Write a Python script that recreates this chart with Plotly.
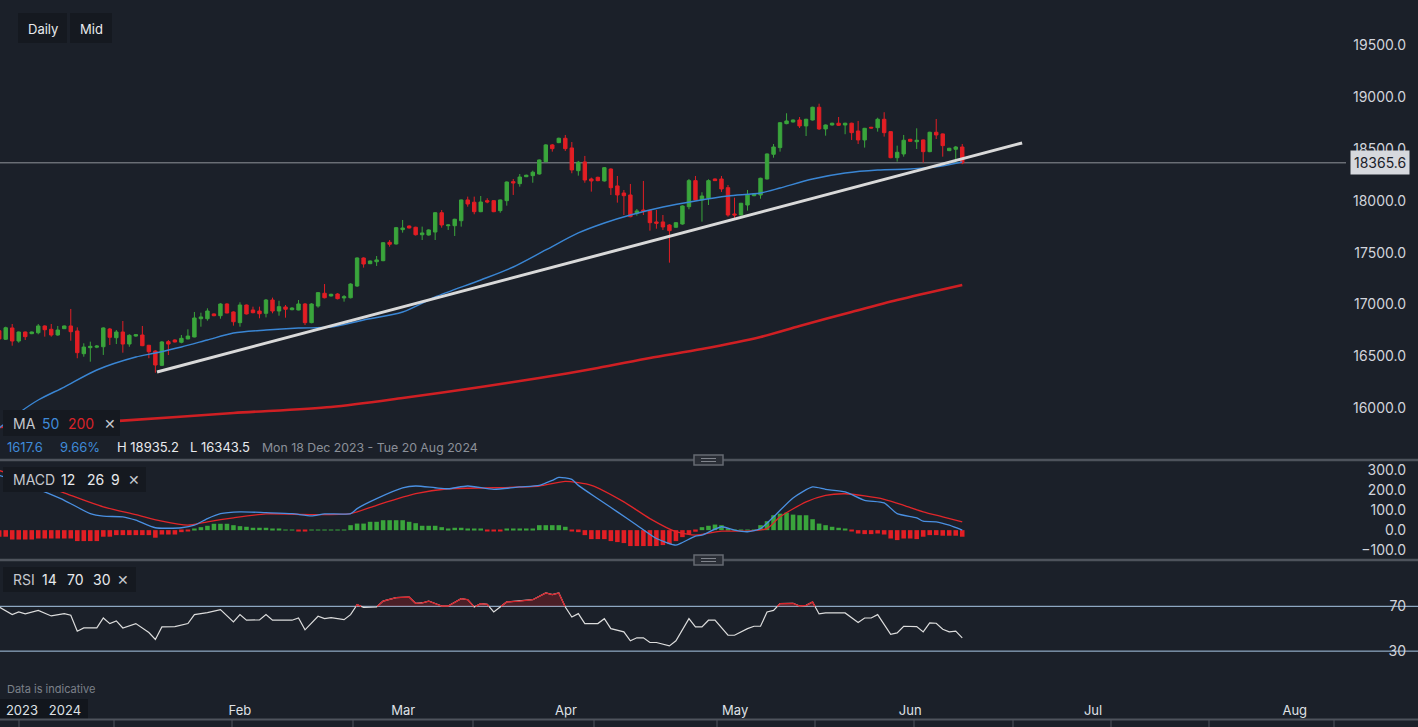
import plotly.graph_objects as go

# ---------------- data ----------------
opens = [16748.0, 16666, 16775, 16649, 16736, 16720, 16729, 16794, 16762, 16707,
         16768, 16794, 16746, 16527, 16585, 16590, 16594, 16765, 16681, 16736,
         16620, 16697, 16707, 16608, 16553, 16415, 16643, 16659, 16637, 16669,
         16688, 16864, 16864, 16910, 16893, 17006, 16929, 16826, 16996, 16948,
         16938, 16916, 17044, 16938, 16977, 16951, 16948, 17006, 16826, 16986,
         17109, 17083, 17102, 17064, 17066, 17179, 17449, 17394, 17413, 17423,
         17600, 17584, 17722, 17757, 17745, 17673, 17670, 17699, 17885, 17760,
         17760, 17808, 18008, 17986, 17895, 18001, 18001, 17905, 18001, 18184,
         18165, 18232, 18242, 18258, 18377, 18538, 18560, 18602, 18509, 18290,
         18374, 18210, 18226, 18191, 18306, 18143, 18075, 18056, 17880, 17911,
         17905, 17796, 17796, 17767, 17745, 17776, 17943, 18194, 18008, 18024,
         18210, 18210, 18126, 17873, 17863, 17959, 18049, 18056, 18210, 18448,
         18512, 18743, 18759, 18778, 18721, 18778, 18901, 18692, 18730, 18747,
         18730, 18747, 18672, 18586, 18708, 18704, 18785, 18666, 18415, 18451,
         18592, 18569, 18586, 18473, 18660, 18644, 18483, 18496, 18518]
highs = [16765, 16787, 16813, 16740, 16740, 16740, 16813, 16800, 16813, 16794,
         16798, 16958, 16781, 16627, 16643, 16610, 16781, 16775, 16755, 16842,
         16714, 16715, 16794, 16612, 16560, 16649, 16659, 16665, 16707, 16762,
         16929, 16922, 16964, 16915, 17013, 17013, 16935, 17022, 17000, 16980,
         16980, 17054, 17067, 17037, 16996, 16975, 17044, 17015, 17013, 17120,
         17198, 17105, 17110, 17092, 17205, 17455, 17455, 17425, 17468, 17602,
         17622, 17748, 17815, 17762, 17750, 17751, 17725, 17890, 17911, 17772,
         17827, 18012, 18040, 18040, 18046, 18024, 18006, 18012, 18186, 18210,
         18258, 18252, 18290, 18398, 18545, 18547, 18608, 18634, 18566, 18384,
         18432, 18223, 18232, 18325, 18312, 18239, 18104, 18162, 17921, 18191,
         17915, 17911, 17863, 17775, 17795, 17955, 18210, 18239, 18082, 18207,
         18215, 18239, 18152, 18030, 17980, 18104, 18072, 18222, 18456, 18547,
         18758, 18843, 18783, 18807, 18790, 18906, 18935.2, 18735, 18752, 18807,
         18752, 18752, 18769, 18702, 18712, 18800, 18853, 18670, 18531, 18634,
         18597, 18698, 18590, 18665, 18788, 18648, 18510, 18528, 18547]
lows = [16650, 16659, 16604, 16633, 16659, 16715, 16714, 16691, 16691, 16700,
        16765, 16652, 16483, 16498, 16450, 16580, 16515, 16611, 16620, 16537,
        16594, 16690, 16600, 16483, 16343.5, 16408, 16514, 16635, 16627, 16666,
        16685, 16787, 16845, 16888, 16864, 16916, 16797, 16787, 16905, 16916,
        16868, 16877, 16916, 16893, 16874, 16945, 16945, 16803, 16820, 16970,
        17060, 17078, 17050, 17028, 17060, 17170, 17356, 17390, 17372, 17418,
        17558, 17578, 17693, 17733, 17665, 17622, 17665, 17622, 17741, 17719,
        17661, 17751, 17943, 17870, 17890, 17976, 17890, 17885, 17953, 18056,
        18136, 18228, 18174, 18252, 18370, 18473, 18555, 18480, 18265, 18242,
        18174, 18088, 18188, 18185, 18056, 17982, 17863, 17841, 17857, 17863,
        17712, 17731, 17719, 17404, 17740, 17770, 17918, 18005, 17799, 17959,
        18190, 18085, 17847, 17831, 17858, 17905, 18044, 18020, 18205, 18415,
        18473, 18737, 18754, 18701, 18624, 18773, 18682, 18627, 18725, 18721,
        18641, 18586, 18547, 18512, 18696, 18666, 18618, 18410, 18377, 18425,
        18568, 18499, 18367, 18468, 18595, 18425, 18478, 18361, 18352]
closes = [16669, 16777, 16649, 16736, 16691, 16736, 16794, 16758, 16707, 16755,
          16794, 16739, 16537, 16591, 16598, 16600, 16775, 16685, 16736, 16620,
          16704, 16710, 16604, 16546, 16418, 16640, 16620, 16640, 16675, 16697,
          16871, 16881, 16938, 16893, 17006, 16919, 16835, 16996, 16910, 16922,
          16912, 17044, 16938, 16980, 16955, 16967, 17006, 16826, 17006, 17115,
          17066, 17099, 17057, 17076, 17198, 17449, 17391, 17420, 17430, 17596,
          17581, 17741, 17738, 17738, 17673, 17690, 17719, 17885, 17767, 17767,
          17822, 18008, 17969, 17895, 17988, 17988, 17895, 18008, 18181, 18172,
          18229, 18246, 18275, 18393, 18538, 18502, 18602, 18502, 18297, 18371,
          18200, 18191, 18194, 18319, 18126, 18056, 18049, 17847, 17902, 17902,
          17789, 17783, 17748, 17712, 17789, 17950, 18194, 18008, 18046, 18194,
          18194, 18114, 17863, 17863, 17976, 18056, 18066, 18217, 18451, 18518,
          18752, 18769, 18778, 18721, 18785, 18901, 18692, 18730, 18747, 18727,
          18747, 18656, 18586, 18698, 18701, 18785, 18656, 18415, 18467, 18583,
          18573, 18583, 18473, 18660, 18634, 18531, 18506, 18518, 18365.6]

ma50_idx = [0, 3, 6, 10, 15, 21, 24, 28, 32, 36, 41, 46, 51, 56, 62, 67, 74, 79, 84,
            89, 93, 97, 102, 107, 112, 117, 120, 125, 130, 135, 140, 144, 148]
ma50_val = [15811, 15956, 16081, 16206, 16370, 16495, 16534, 16592, 16659, 16726,
            16755, 16774, 16784, 16852, 16929, 17073, 17237, 17362, 17526, 17690,
            17786, 17863, 17940, 17998, 18046, 18075, 18123, 18210, 18268, 18297,
            18306, 18326, 18374]
ma200_idx = [0, 19, 36, 51, 62, 74, 83, 92, 100, 108, 117, 123, 131, 138, 148]
ma200_val = [15821, 15882, 15956, 16014, 16100, 16206, 16293, 16389, 16486, 16572,
             16688, 16794, 16929, 17044, 17189]

trend_idx = [24.25, 157.2]
trend_val = [16351, 18557]

macd_idx = [0, 4, 7, 10, 14, 16, 19, 21, 24, 28, 30, 32, 34, 37, 41, 45, 48, 50, 54,
            55, 58, 62, 64, 67, 69, 72, 76, 80, 83, 85, 86, 88, 89, 92, 95, 98, 101,
            104, 105, 107, 108, 111, 113, 115, 117, 119, 122, 125, 127, 130, 133,
            136, 138, 141, 142, 144, 146, 148]
macd_val = [275, 233, 192, 150, 83, 70, 67, 50, 12, 12, 25, 58, 83, 92, 88, 83, 72,
            82, 83, 108, 158, 212, 222, 213, 208, 222, 205, 217, 225, 250, 265, 255,
            225, 158, 92, 25, -42, -75, -62, -30, -25, 17, 0, -8, 8, 67, 162, 217,
            205, 192, 150, 137, 83, 62, 45, 42, 25, 0]
signal_idx = [0, 7, 11, 16, 21, 25, 29, 32, 36, 41, 48, 54, 58, 64, 69, 76, 83, 87,
              91, 96, 100, 104, 107, 111, 115, 118, 120, 124, 127, 130, 133, 136,
              139, 142, 145, 148]
signal_val = [300, 225, 175, 117, 78, 45, 25, 42, 62, 82, 78, 83, 125, 183, 208, 213,
              222, 245, 225, 142, 58, -8, -25, -5, -5, 8, 67, 142, 175, 183, 172,
              155, 125, 92, 67, 42]
hist_val = [-33, -33, -47, -47, -47, -47, -42, -42, -42, -42, -42, -42, -55, -55, -55,
            -55, -33, -33, -25, -25, -25, -25, -25, -25, -38, -22, -22, -22, -10, -5,
            7, 15, 22, 32, 32, 32, 25, 20, 17, 12, 12, 12, 8, 8, 2, 2, -7, -7,
            3, 3, 3, 3, 3, 3, 25, 33, 33, 42, 42, 50, 50, 50, 50, 42, 35, 22, 22, 22,
            15, 5, 12, 12, 5, 5, 5, -5, -5, -5, 8, 8, 8, 8, 8, 25, 25, 25, 25, 17,
            -5, -10, -25, -45, -45, -45, -55, -60, -65, -80, -80, -80, -80, -80, -75,
            -70, -55, -35, -20, -8, 15, 22, 28, 25, 8, 3, 3, 3, 3, 25, 45, 75, 83,
            88, 78, 75, 75, 55, 33, 25, 17, 12, 5, -3, -17, -20, -20, -17, -22, -42,
            -50, -42, -42, -45, -33, -25, -25, -28, -28, -28, -33]

rsi_idx = [0, 2, 3, 4, 6, 8, 10, 11, 12, 13, 15, 16, 17, 18, 19, 21, 23, 24, 25, 27,
           29, 30, 32, 34, 36, 37, 38, 40, 41, 42, 44, 45, 46, 47, 49, 50, 51, 53, 54,
           55, 56, 58, 59, 61, 63, 64, 65, 66, 68, 69, 71, 72, 73, 74, 75, 76, 78, 80,
           82, 84, 85, 86, 87, 88, 89, 90, 92, 93, 94, 96, 97, 98, 99, 100, 101, 103,
           104, 106, 107, 108, 109, 110, 112, 113, 115, 116, 117, 118, 119, 120, 122,
           123, 124, 125, 126, 127, 129, 130, 132, 133, 134, 135, 137, 138, 139, 141,
           142, 143, 144, 145, 146, 147, 148]
rsi_val = [69.4, 62.6, 65.0, 63.2, 66.4, 61.4, 63.5, 62.0, 47.8, 50.7, 50.7, 59.6, 54.6,
           57.0, 50.7, 54.6, 46.6, 40.4, 51.6, 51.9, 54.6, 62.6, 64.4, 67.0, 56.1, 62.6,
           57.6, 57.9, 62.6, 57.6, 57.6, 57.6, 59.6, 49.0, 61.1, 59.0, 59.9, 58.1, 62.6,
           71.5, 69.1, 69.4, 74.7, 77.7, 78.3, 72.7, 73.0, 74.7, 70.3, 70.3, 76.8, 75.9,
           69.4, 72.4, 71.8, 65.0, 73.9, 74.7, 75.9, 81.9, 80.4, 81.9, 69.4, 60.5, 63.5,
           54.6, 54.6, 59.0, 50.1, 47.2, 39.2, 41.9, 41.9, 37.7, 37.7, 34.7, 39.2, 59.0,
           51.6, 51.6, 57.6, 57.6, 44.2, 44.2, 50.1, 52.2, 52.2, 65.0, 66.4, 72.4, 72.7,
           70.3, 70.9, 73.9, 63.2, 64.1, 63.8, 64.1, 55.5, 59.6, 59.6, 62.6, 45.1, 46.3,
           52.2, 51.9, 47.2, 55.2, 54.9, 49.6, 47.2, 47.8, 41.9]
rsi_upper, rsi_lower = 70, 30

price_ticks = [16000, 16500, 17000, 17500, 18000, 18500, 19000, 19500]
macd_ticks = [-100, 0, 100, 200, 300]
rsi_ticks = [30, 70]
x_tick_pos = [3.5, 10.1, 37.0, 62.1, 87.1, 113.1, 140.0, 168.1, 199.1]
x_tick_text = ["2023", "2024", "Feb", "Mar", "Apr", "May", "Jun", "Jul", "Aug"]
range_text = "Mon 18 Dec 2023 - Tue 20 Aug 2024"

# ---------------- styling ----------------
W, H = 1418, 727
BG = "#1b2029"
GREEN = "#3aa53c"
RED = "#e21e24"
BLUE = "#3f8ad8"
TXT = "#d1d4dc"
FONT = "Inter"
X_RANGE = [0.123, 218.04]

def px(x):
    return x / W

def py(y):
    return 1 - y / H

idx = list(range(len(opens)))
fig = go.Figure()

fig.add_trace(go.Candlestick(
    x=idx, open=opens, high=highs, low=lows, close=closes,
    increasing=dict(line=dict(color=GREEN, width=1), fillcolor=GREEN),
    decreasing=dict(line=dict(color=RED, width=1), fillcolor=RED),
    whiskerwidth=0, xaxis="x", yaxis="y", showlegend=False))
fig.add_trace(go.Scatter(x=ma200_idx, y=ma200_val, mode="lines",
                         line=dict(color="#cf1f23", width=2.6, shape="spline", smoothing=0.8),
                         xaxis="x", yaxis="y", showlegend=False))
fig.add_trace(go.Scatter(x=ma50_idx, y=ma50_val, mode="lines",
                         line=dict(color="#3a86d4", width=1.4, shape="spline", smoothing=0.8),
                         xaxis="x", yaxis="y", showlegend=False))
fig.add_trace(go.Scatter(x=trend_idx, y=trend_val, mode="lines",
                         line=dict(color="#d9d9d9", width=3),
                         xaxis="x", yaxis="y", showlegend=False))

# MACD
fig.add_trace(go.Bar(x=idx, y=hist_val, width=0.7,
                     marker=dict(color=[GREEN if v >= 0 else RED for v in hist_val], line=dict(width=0)),
                     xaxis="x2", yaxis="y2", showlegend=False))
fig.add_trace(go.Scatter(x=signal_idx, y=signal_val, mode="lines",
                         line=dict(color="#e0262a", width=1.3, shape="spline", smoothing=0.6),
                         xaxis="x2", yaxis="y2", showlegend=False))
fig.add_trace(go.Scatter(x=macd_idx, y=macd_val, mode="lines",
                         line=dict(color="#4a90e2", width=1.3, shape="spline", smoothing=0.6),
                         xaxis="x2", yaxis="y2", showlegend=False))

# RSI: white line, red overbought part with shaded area
ox, oy, rl = [], [], []
for k in range(len(rsi_idx)):
    if k > 0:
        a, b = rsi_val[k - 1], rsi_val[k]
        if (a - rsi_upper) * (b - rsi_upper) < 0:
            t = (rsi_upper - a) / (b - a)
            xc = rsi_idx[k - 1] + t * (rsi_idx[k] - rsi_idx[k - 1])
            ox.append(xc); oy.append(rsi_upper); rl.append(rsi_upper)
    ox.append(rsi_idx[k])
    oy.append(max(rsi_val[k], rsi_upper))
    rl.append(rsi_val[k] if rsi_val[k] >= rsi_upper else None)

fig.add_trace(go.Scatter(x=rsi_idx, y=rsi_val, mode="lines",
                         line=dict(color="#dcdcdc", width=1.2),
                         xaxis="x3", yaxis="y3", showlegend=False))
fig.add_trace(go.Scatter(x=ox, y=[rsi_upper] * len(ox), mode="lines",
                         line=dict(width=0, color="rgba(0,0,0,0)"),
                         xaxis="x3", yaxis="y3", showlegend=False))
fig.add_trace(go.Scatter(x=ox, y=oy, mode="lines", fill="tonexty",
                         fillcolor="rgba(200,30,35,0.28)",
                         line=dict(width=0, color="rgba(0,0,0,0)"),
                         xaxis="x3", yaxis="y3", showlegend=False))
fig.add_trace(go.Scatter(x=ox, y=rl, mode="lines", connectgaps=False,
                         line=dict(color="#d8232a", width=1.3),
                         xaxis="x3", yaxis="y3", showlegend=False))

main_dom = [py(460), 1]
macd_dom = [py(560), py(461.5)]
rsi_dom = [py(700), py(561.5)]

common_x = dict(range=X_RANGE, showgrid=False, zeroline=False, showline=False,
                ticks="", fixedrange=True)
common_y = dict(showgrid=False, zeroline=False, showline=False, ticks="", side="right",
                ticklabelposition="inside", ticklabelstandoff=9, ticklabeloverflow="allow",
                tickfont=dict(size=14, color=TXT, family=FONT), fixedrange=True)

fig.update_layout(
    width=W, height=H, autosize=False,
    margin=dict(l=0, r=0, t=0, b=0),
    paper_bgcolor=BG, plot_bgcolor=BG,
    font=dict(family=FONT, color=TXT),
    hovermode=False, showlegend=False, bargap=0.3, boxgap=0.25,
    xaxis=dict(**common_x, domain=[0, 1], anchor="y", showticklabels=False,
               rangeslider=dict(visible=False)),
    xaxis2=dict(**common_x, domain=[0, 1], anchor="y2", showticklabels=False),
    xaxis3=dict(**common_x, domain=[0, 1], anchor="y3", tickmode="array",
                tickvals=x_tick_pos, ticktext=x_tick_text, ticklabelstandoff=1,
                tickfont=dict(size=13, color="#dfe1e6", family=FONT)),
    yaxis=dict(**common_y, domain=main_dom, anchor="x", range=[15503, 19934],
               tickmode="array", tickvals=price_ticks, tickformat=".1f"),
    yaxis2=dict(**common_y, domain=macd_dom, anchor="x2", range=[-150, 345],
                tickmode="array", tickvals=macd_ticks, tickformat=".1f"),
    yaxis3=dict(**common_y, domain=rsi_dom, anchor="x3", range=[-13.6, 110],
                tickmode="array", tickvals=rsi_ticks, tickformat="d"),
)

shapes = []
# RSI bands
for lvl in (rsi_upper, rsi_lower):
    shapes.append(dict(type="line", xref="paper", x0=0, x1=1, yref="y3", y0=lvl, y1=lvl,
                       line=dict(color="#a9c7e6", width=1), layer="below"))
# last price line
shapes.append(dict(type="line", xref="paper", x0=0, x1=px(1346), yref="y",
                   y0=closes[-1], y1=closes[-1], line=dict(color="#8f929a", width=1),
                   layer="below"))
# panel separators with drag handles
for yy in (460, 560):
    shapes.append(dict(type="line", xref="paper", yref="paper", x0=0, x1=1,
                       y0=py(yy), y1=py(yy), line=dict(color="#4e535c", width=2.5)))
    shapes.append(dict(type="rect", xref="paper", yref="paper", x0=px(694), x1=px(723),
                       y0=py(yy + 5), y1=py(yy - 5),
                       fillcolor="#2a2e36", line=dict(color="#666a72", width=1.5)))
    for dy in (-1.5, 1.5):
        shapes.append(dict(type="line", xref="paper", yref="paper", x0=px(701), x1=px(716),
                           y0=py(yy + dy), y1=py(yy + dy), line=dict(color="#80848c", width=1)))
# bottom strip
shapes.append(dict(type="line", xref="paper", yref="paper", x0=0, x1=1, y0=py(719.5), y1=py(719.5),
                   line=dict(color="#4e535c", width=2)))
for xx in (19, 114, 232, 353, 473, 594, 717, 815, 914, 1013, 1111, 1209, 1334):
    shapes.append(dict(type="line", xref="paper", yref="paper", x0=px(xx), x1=px(xx),
                       y0=py(720), y1=py(727), line=dict(color="#4e535c", width=1)))
shapes.append(dict(type="rect", xref="paper", yref="paper", x0=0, x1=px(88),
                   y0=py(719), y1=py(699), fillcolor="#12161d", line=dict(width=0), layer="below"))
# legend / button boxes
for (x0, x1, y0, y1) in [(18, 67, 13, 43), (70, 112, 13, 43), (3, 120, 410, 436),
                         (3, 146, 467, 492), (3, 136, 567, 592)]:
    shapes.append(dict(type="rect", xref="paper", yref="paper", x0=px(x0), x1=px(x1),
                       y0=py(y1), y1=py(y0), fillcolor="#151920", line=dict(width=0)))
fig.update_layout(shapes=shapes)

ann = []
def txt(x, y, s, color=TXT, size=14, anchor="left"):
    ann.append(dict(x=px(x), y=py(y), xref="paper", yref="paper", text=s, showarrow=False,
                    xanchor=anchor, yanchor="middle",
                    font=dict(family=FONT, size=size, color=color)))

txt(42.5, 29, "Daily", "#e8eaed", 13, "center")
txt(91, 29, "Mid", "#e8eaed", 13, "center")
txt(11, 423, "MA", "#c5c8ce")
txt(40, 423, "50", BLUE)
txt(66, 423, "200", "#d8232a")
txt(102, 423, "✕", "#c5c8ce", 14)
change = closes[-1] - opens[0]
txt(5, 447, f"{change:.1f}", BLUE, 13)
txt(58, 447, f"{change / opens[0] * 100:.2f}%", BLUE, 13)
txt(115, 447, f"H {max(highs):.1f}", "#e8eaed", 13)
txt(188, 447, f"L {min(lows):.1f}", "#e8eaed", 13)
txt(260, 447, range_text, "#8b9099", 12.3)
txt(11, 479, "MACD", "#c5c8ce")
txt(59, 479, "12", "#e8eaed")
txt(85, 479, "26", "#e8eaed")
txt(109, 479, "9", "#e8eaed")
txt(126, 479, "✕", "#c5c8ce")
txt(11, 579, "RSI", "#c5c8ce")
txt(40, 579, "14", "#e8eaed")
txt(65, 579, "70", "#e8eaed")
txt(91, 579, "30", "#e8eaed")
txt(115, 579, "✕", "#c5c8ce")
txt(5, 689, "Data is indicative", "#7c818a", 11)
ann.append(dict(x=px(1380), y=closes[-1], xref="paper", yref="y", text=f"{closes[-1]:.1f}",
                showarrow=False, xanchor="center", yanchor="middle", bgcolor="#d6d8dd",
                borderpad=3, font=dict(family=FONT, size=14, color="#1b2029")))
fig.update_layout(annotations=ann)

fig.write_html("out.html", config={"displayModeBar": False},
               post_script="document.body.style.margin='0';document.body.style.overflow='hidden';")
